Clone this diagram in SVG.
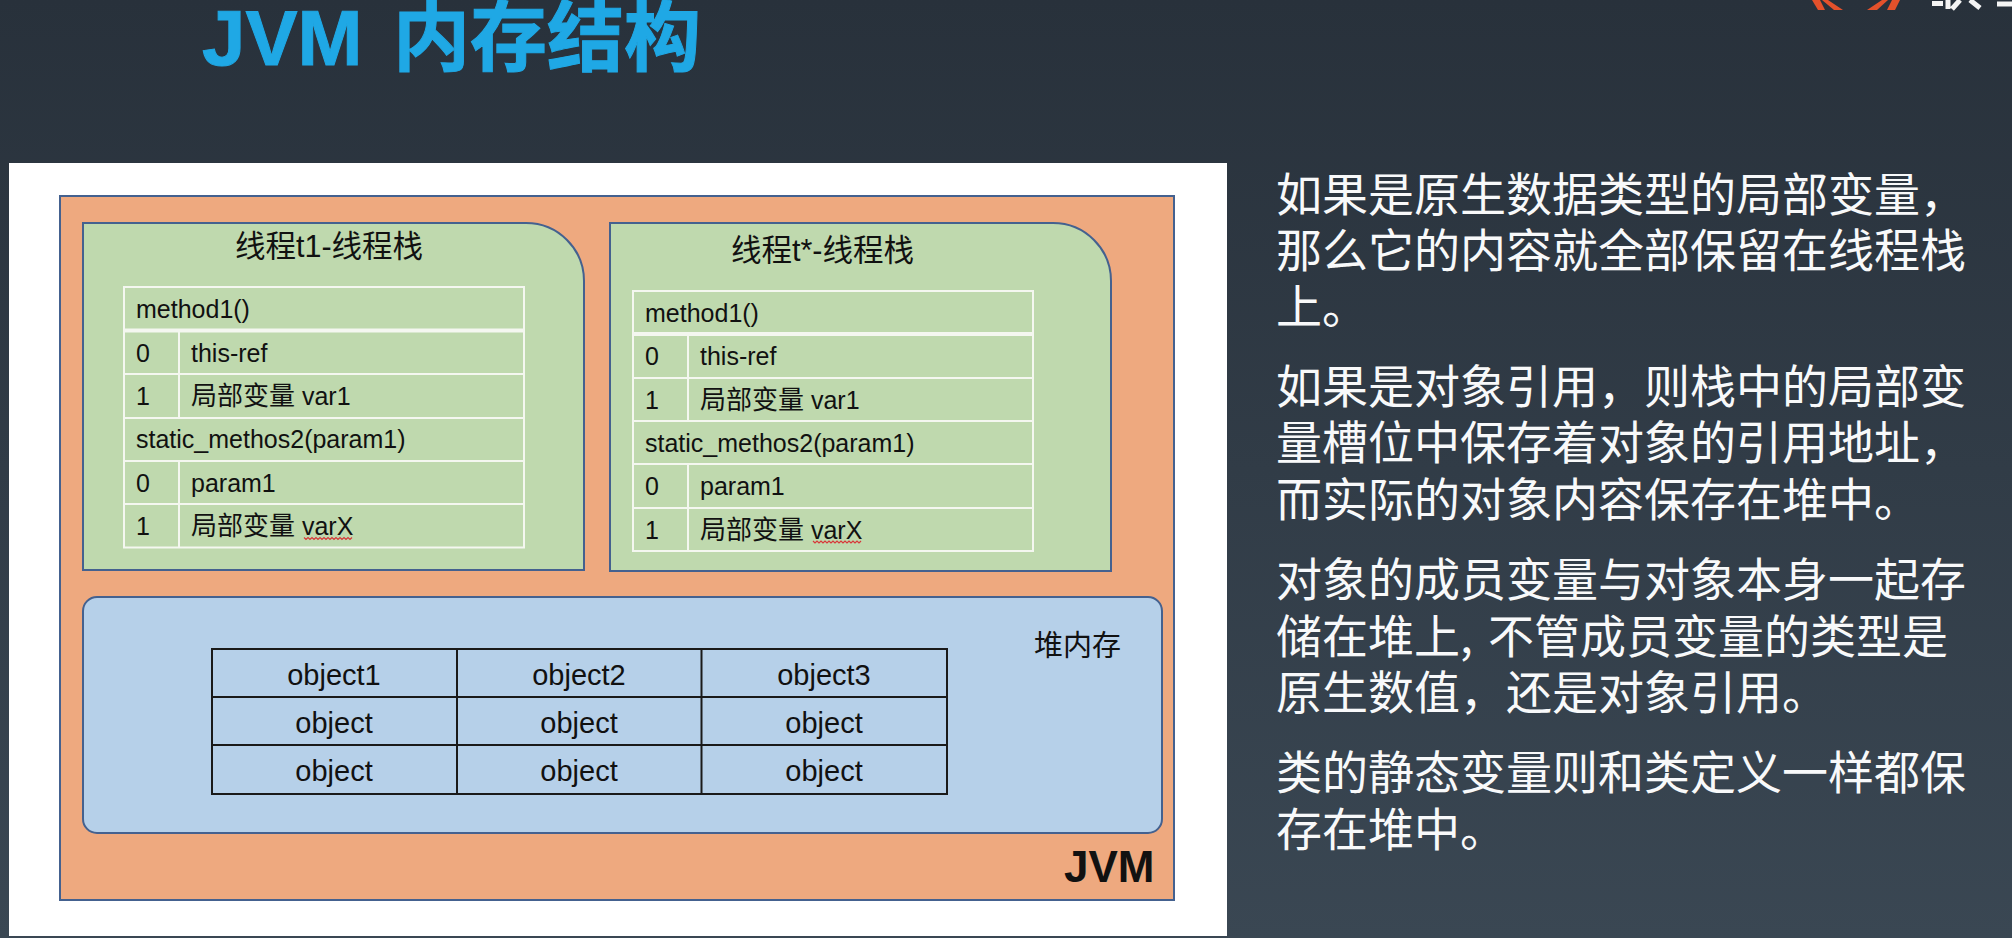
<svg xmlns="http://www.w3.org/2000/svg" width="2012" height="938" viewBox="0 0 2012 938">
<style>
text{font-family:"Liberation Sans","Noto Sans CJK SC",sans-serif;fill:#111}
.cell{font-size:25px}
.cjk{font-size:26px}
.hd{font-size:30.500px}
.obj{font-size:29px;text-anchor:middle}
.side{font-family:"Noto Sans CJK SC",sans-serif;font-size:46px;fill:#f8f9fa}
.box{stroke:#44618f;stroke-width:2}
.grid{stroke:#f4f7f0;stroke-width:2;fill:none}
.hgrid{stroke:#1a1a1a;stroke-width:2;fill:none}
.wave{stroke:#d8383a;stroke-width:1.2;fill:none}
</style>
<defs>
<linearGradient id="bg" x1="0" y1="0" x2="0" y2="1"><stop offset="0" stop-color="#28313b"/><stop offset="1" stop-color="#3a4753"/></linearGradient>
</defs>
<rect width="2012" height="938" fill="url(#bg)"/>
<g id="logo">
<g fill="#e4512b">
<polygon points="1812,0 1820,0 1825,10 1818,10"/>
<polygon points="1822,0 1828,0 1843,10 1834,10"/>
<polygon points="1882,0 1888,0 1877,10 1867,10"/>
<polygon points="1892,0 1900,0 1895,10 1887,10"/>
</g>
<path d="M1932 3.500H1943M1948 0V9M1960 0L1952 9M1970 0L1980 8M1997 4H2012" fill="none" stroke="#f4f4f4" stroke-width="5"/>
</g>
<text id="title" y="65" font-weight="bold" stroke="#1fa8e5" stroke-width="1" style="fill:#1fa8e5"><tspan x="202" font-size="78">JVM</tspan><tspan x="393" font-size="77">内存结构</tspan></text>
<rect id="panel" x="9" y="163" width="1218" height="773" fill="#fff"/>
<g id="jvm">
<rect class="box" x="60" y="196" width="1114" height="704" fill="#eea97f"/>
<text x="1064" y="882" font-size="44" font-weight="bold">JVM</text>
</g>
<g id="thread-t1">
<path class="box" d="M83 223H526A58 58 0 0 1 584 281V570H83Z" fill="#bfd9ae"/>
<text class="hd" x="235" y="257">线程t1-线程栈</text>
<g class="grid">
<rect x="124" y="287" width="400" height="260.500"/>
<path d="M124 330.500H524" stroke-width="4"/>
<path d="M124 374H524M124 418H524M124 461H524M124 504H524M179 332V418M179 461V547"/>
</g>
<text class="cell" x="136" y="318">method1()</text>
<text class="cell" x="136" y="362">0</text><text class="cell" x="191" y="362">this-ref</text>
<text class="cell" x="136" y="405">1</text><text class="cell" x="191" y="405"><tspan class="cjk">局部变量</tspan> var1</text>
<text class="cell" x="136" y="448">static_methos2(param1)</text>
<text class="cell" x="136" y="492">0</text><text class="cell" x="191" y="492">param1</text>
<text class="cell" x="136" y="535">1</text><text class="cell" x="191" y="535"><tspan class="cjk">局部变量</tspan> varX</text>
<path class="wave" d="M304 537.500l2 2 2-2 2 2 2-2 2 2 2-2 2 2 2-2 2 2 2-2 2 2 2-2 2 2 2-2 2 2 2-2 2 2 2-2 2 2 2-2 2 2 2-2 2 2 2-2"/>
</g>
<g id="thread-t2">
<path class="box" d="M610 223H1053A58 58 0 0 1 1111 281V571H610Z" fill="#bfd9ae"/>
<text class="hd" x="731" y="261">线程t*-线程栈</text>
<g class="grid">
<rect x="633" y="291" width="400" height="260"/>
<path d="M633 334H1033" stroke-width="4"/>
<path d="M633 378H1033M633 421H1033M633 464H1033M633 508H1033M688 336V421M688 464V551"/>
</g>
<text class="cell" x="645" y="322">method1()</text>
<text class="cell" x="645" y="365">0</text><text class="cell" x="700" y="365">this-ref</text>
<text class="cell" x="645" y="409">1</text><text class="cell" x="700" y="409"><tspan class="cjk">局部变量</tspan> var1</text>
<text class="cell" x="645" y="452">static_methos2(param1)</text>
<text class="cell" x="645" y="495">0</text><text class="cell" x="700" y="495">param1</text>
<text class="cell" x="645" y="539">1</text><text class="cell" x="700" y="539"><tspan class="cjk">局部变量</tspan> varX</text>
<path class="wave" d="M813 541l2 2 2-2 2 2 2-2 2 2 2-2 2 2 2-2 2 2 2-2 2 2 2-2 2 2 2-2 2 2 2-2 2 2 2-2 2 2 2-2 2 2 2-2 2 2 2-2"/>
</g>
<g id="heap">
<rect class="box" x="83" y="597" width="1079" height="236" rx="14" fill="#b6d0e9"/>
<text x="1034" y="656" font-size="29">堆内存</text>
<g class="hgrid">
<rect x="212" y="649" width="735" height="145"/>
<path d="M212 697H947M212 745H947M457 649V794M701.500 649V794"/>
</g>
<text class="obj" x="334" y="685">object1</text><text class="obj" x="579" y="685">object2</text><text class="obj" x="824" y="685">object3</text>
<text class="obj" x="334" y="733">object</text><text class="obj" x="579" y="733">object</text><text class="obj" x="824" y="733">object</text>
<text class="obj" x="334" y="781">object</text><text class="obj" x="579" y="781">object</text><text class="obj" x="824" y="781">object</text>
</g>
<g id="notes">
<text class="side" x="1276" y="211">如果是原生数据类型的局部变量，</text>
<text class="side" x="1276" y="267">那么它的内容就全部保留在线程栈</text>
<text class="side" x="1276" y="323">上。</text>
<text class="side" x="1276" y="403">如果是对象引用，则栈中的局部变</text>
<text class="side" x="1276" y="459">量槽位中保存着对象的引用地址，</text>
<text class="side" x="1276" y="516">而实际的对象内容保存在堆中。</text>
<text class="side" x="1276" y="596">对象的成员变量与对象本身一起存</text>
<text class="side" x="1276" y="653">储在堆上, <tspan dx="5">不管成员变量的类型是</tspan></text>
<text class="side" x="1276" y="709">原生数值，还是对象引用。</text>
<text class="side" x="1276" y="789">类的静态变量则和类定义一样都保</text>
<text class="side" x="1276" y="846">存在堆中。</text>
</g>
</svg>
